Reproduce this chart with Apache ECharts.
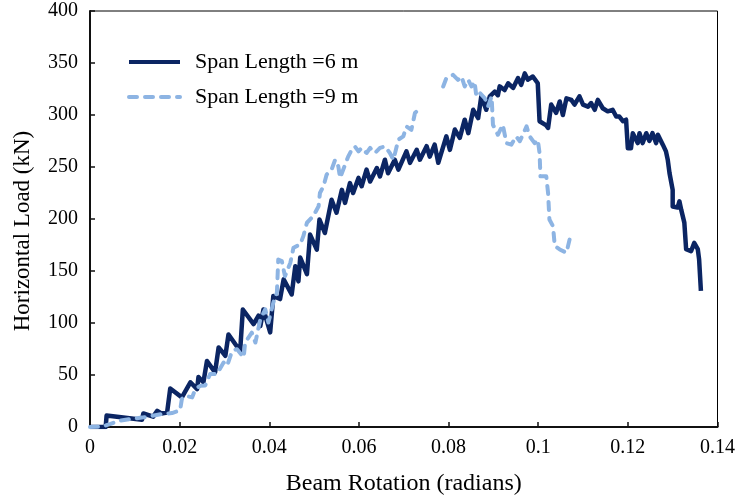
<!DOCTYPE html>
<html>
<head>
<meta charset="utf-8">
<script src="https://cdn.jsdelivr.net/npm/echarts@6/dist/echarts.min.js"></script>
<style>
  html, body { margin: 0; padding: 0; background: #fff; }
  #chart { width: 738px; height: 501px; }
</style>
</head>
<body>
<div id="chart"></div>
<script>
// Beam rotation (radians) vs horizontal load (kN), span length 6 m
const span6m = [
  [0, 0], [0.0035, 0], [0.0037, 11], [0.0116, 7], [0.0119, 13], [0.0141, 10], [0.0150, 15.5],
  [0.0159, 13], [0.0172, 14], [0.0179, 37], [0.0205, 28.5], [0.0224, 43], [0.0239, 36.5],
  [0.0242, 48], [0.0253, 43], [0.0261, 63.5], [0.0279, 52.5], [0.0287, 76.5], [0.0302, 68.5],
  [0.0309, 89], [0.0335, 73], [0.0341, 113], [0.0365, 99], [0.0376, 107], [0.0380, 97],
  [0.0387, 113], [0.0402, 91], [0.0409, 126], [0.0424, 123], [0.0432, 142], [0.0450, 127.5],
  [0.0458, 154.5], [0.0465, 140], [0.0469, 163], [0.0484, 147], [0.0491, 185], [0.0506, 170.5],
  [0.0512, 199.5], [0.0524, 186.5], [0.0539, 218.5], [0.0550, 206], [0.0562, 228], [0.0569, 215.5],
  [0.0580, 234.5], [0.0587, 225], [0.0599, 239.5], [0.0606, 231.5], [0.0617, 247.5], [0.0625, 236],
  [0.0640, 249], [0.0647, 241], [0.0658, 257], [0.0665, 244], [0.0680, 257], [0.0688, 247.5],
  [0.0706, 265], [0.0714, 254], [0.0729, 266.5], [0.0736, 257], [0.0751, 270], [0.0758, 260],
  [0.0769, 271.5], [0.0777, 254], [0.0795, 279.5], [0.0803, 266.5], [0.0814, 286], [0.0825, 278],
  [0.0836, 295.5], [0.0844, 282.5], [0.0855, 305], [0.0866, 297], [0.0873, 318], [0.0884, 305],
  [0.0892, 318], [0.0903, 322.5], [0.0910, 319], [0.0914, 327.5], [0.0925, 324], [0.0933, 330.5],
  [0.0944, 326], [0.0955, 335.5], [0.0962, 329], [0.0970, 340], [0.0977, 334], [0.0988, 337],
  [0.0999, 330.5], [0.1003, 294], [0.1018, 290], [0.1022, 287.5], [0.1029, 310], [0.1040, 302],
  [0.1048, 313], [0.1055, 300], [0.1063, 316], [0.1074, 314.5], [0.1081, 310], [0.1092, 318],
  [0.1100, 310], [0.1111, 308], [0.1118, 311.5], [0.1126, 305], [0.1133, 314.5], [0.1144, 306.5],
  [0.1155, 303.5], [0.1166, 305], [0.1174, 298.5], [0.1181, 298.5], [0.1189, 294], [0.1196, 295.5],
  [0.1200, 268], [0.1207, 268], [0.1211, 282.5], [0.1222, 273], [0.1226, 282.5], [0.1233, 273],
  [0.1241, 282.5], [0.1248, 275], [0.1255, 282.5], [0.1263, 273], [0.1267, 281], [0.1278, 271.5],
  [0.1285, 265], [0.1289, 257], [0.1293, 244], [0.1300, 228], [0.1300, 212], [0.1311, 211],
  [0.1315, 217], [0.1319, 209], [0.1326, 196.5], [0.1330, 171], [0.1341, 169], [0.1348, 177],
  [0.1356, 171], [0.1359, 161], [0.1363, 131]
];

// Beam rotation (radians) vs horizontal load (kN), span length 9 m
// (null marks the stretch with no recorded readings)
const span9m = [
  [0, 0], [0.0027, 0.3], [0.0046, 3], [0.0064, 6], [0.0090, 7.7], [0.0120, 9.3], [0.0139, 10.8],
  [0.0161, 12.5], [0.0183, 13.4], [0.0201, 16], [0.0205, 27], [0.0213, 30], [0.0228, 28.5],
  [0.0235, 36.5], [0.0246, 39.6], [0.0257, 40], [0.0268, 51], [0.0283, 50.8], [0.0298, 62],
  [0.0306, 58.8], [0.0317, 73.2], [0.0328, 74.8], [0.0343, 66.9], [0.0346, 81.2], [0.0361, 90.8],
  [0.0369, 81.2], [0.0380, 103.6], [0.0391, 113.2], [0.0398, 100.4], [0.0409, 119.6], [0.0417, 129.2],
  [0.0420, 161], [0.0428, 159.5], [0.0435, 145], [0.0447, 158], [0.0454, 172.4], [0.0469, 175.5],
  [0.0476, 183.5], [0.0484, 196.4], [0.0498, 202.7], [0.0510, 212.3], [0.0513, 225], [0.0521, 231.5],
  [0.0528, 242.7], [0.0539, 247.5], [0.0547, 257], [0.0554, 250.7], [0.0558, 239.5], [0.0565, 247.5],
  [0.0576, 260], [0.0584, 266.7], [0.0591, 269.8], [0.0599, 265], [0.0606, 268.3], [0.0617, 263.5],
  [0.0625, 268.3], [0.0636, 263.5], [0.0647, 268.3], [0.0658, 269.8], [0.0669, 263.5], [0.0677, 257],
  [0.0688, 276.3], [0.0699, 279.4], [0.0706, 289], [0.0717, 285.8], [0.0725, 301.9], [0.0736, 306.7],
  [0.0760, null],
  [0.0788, 327.4], [0.0795, 335.4], [0.0810, 338.6], [0.0821, 333.8], [0.0829, 337], [0.0836, 327.4],
  [0.0844, 333.8], [0.0851, 327.4], [0.0858, 332.2], [0.0862, 317.8], [0.0870, 321], [0.0881, 316],
  [0.0888, 308.2], [0.0896, 317.8], [0.0899, 290.6], [0.0910, 281], [0.0921, 290.6], [0.0929, 273],
  [0.0940, 271.5], [0.0951, 279.4], [0.0959, 274.8], [0.0974, 289], [0.0981, 279.4], [0.0992, 273],
  [0.0999, 276.3], [0.1003, 263.5], [0.1005, 241], [0.1018, 241], [0.1022, 225], [0.1025, 199.5],
  [0.1033, 193], [0.1037, 174], [0.1048, 170.7], [0.1063, 167.6], [0.1070, 180.3]
];

const seriesNames = ['Span Length =6 m', 'Span Length =9 m'];
const xTicks = { min: 0, max: 0.14, step: 0.02 };
const yTicks = { min: 0, max: 400, step: 50 };

const serif = 'Liberation Serif, Times New Roman, serif';
const chart = echarts.init(document.getElementById('chart'));

chart.setOption({
  animation: false,
  backgroundColor: '#fff',
  grid: {
    left: 90, right: 20, top: 11, bottom: 73,
    show: true, borderColor: '#000', borderWidth: 1
  },
  legend: {
    orient: 'vertical',
    left: 127, top: 50, padding: 0,
    itemWidth: 51, itemHeight: 14, itemGap: 11,
    data: seriesNames,
    lineStyle: { width: 4 },
    itemStyle: { opacity: 0 },
    textStyle: {
      fontFamily: serif, fontSize: 22, color: '#000',
      lineHeight: 24, padding: [0, 0, 0, 10]
    }
  },
  xAxis: {
    type: 'value',
    min: xTicks.min, max: xTicks.max, interval: xTicks.step,
    name: 'Beam Rotation (radians)',
    nameLocation: 'middle', nameGap: 45,
    nameTextStyle: { fontFamily: serif, fontSize: 24, color: '#000' },
    axisLine: { lineStyle: { color: '#111', width: 2 } },
    axisTick: { inside: true, length: 5, lineStyle: { color: '#111', width: 1.5 } },
    axisLabel: { fontFamily: serif, fontSize: 20, color: '#000', margin: 11 },
    splitLine: { show: false }
  },
  yAxis: {
    type: 'value',
    min: yTicks.min, max: yTicks.max, interval: yTicks.step,
    name: 'Horizontal Load (kN)',
    nameLocation: 'middle', nameGap: 56,
    nameTextStyle: { fontFamily: serif, fontSize: 23, color: '#000', padding: [0, 24, 0, 0] },
    axisLine: { lineStyle: { color: '#111', width: 2 } },
    axisTick: { inside: true, length: 5, lineStyle: { color: '#111', width: 1.5 } },
    axisLabel: { fontFamily: serif, fontSize: 20, color: '#000', margin: 12 },
    splitLine: { show: false }
  },
  series: [
    {
      name: seriesNames[0],
      type: 'line',
      data: span6m,
      showSymbol: false,
      symbol: 'none',
      lineStyle: { color: '#0b2563', width: 4.5, join: 'round' },
      itemStyle: { color: '#0b2563' }
    },
    {
      name: seriesNames[1],
      type: 'line',
      data: span9m,
      showSymbol: false,
      symbol: 'none',
      connectNulls: false,
      lineStyle: { color: '#8db4e3', width: 4, type: [8, 8], cap: 'round', join: 'round' },
      itemStyle: { color: '#8db4e3' }
    }
  ]
});
</script>
</body>
</html>
